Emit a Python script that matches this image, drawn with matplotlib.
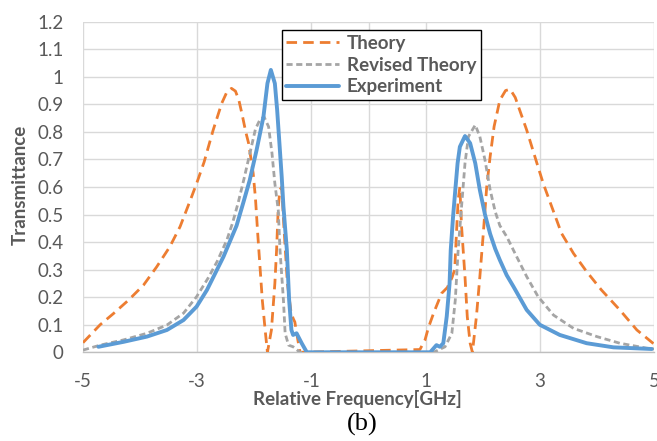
import matplotlib
matplotlib.use("Agg")
import matplotlib.pyplot as plt

# ---------------- data ----------------
theory_x = [-5.0, -4.7, -4.47, -4.2, -3.94, -3.71, -3.48, -3.30, -3.13, -3.01, -2.88, -2.72,
            -2.57, -2.48, -2.40, -2.33, -2.27, -2.21, -2.15, -2.10, -2.02, -1.98, -1.94, -1.90,
            -1.86, -1.81, -1.77, -1.70, -1.64, -1.61, -1.58, -1.55, -1.52, -1.48, -1.42, -1.36,
            -1.32, -1.29, -1.25, -1.20, 0.90, 0.99, 1.05, 1.14, 1.28, 1.38, 1.46, 1.51, 1.54,
            1.57, 1.60, 1.63, 1.69, 1.73, 1.78, 1.82, 1.89, 1.95, 2.01, 2.07, 2.13, 2.20, 2.30,
            2.40, 2.48, 2.57, 2.77, 2.95, 3.06, 3.21, 3.38, 3.59, 3.82, 4.08, 4.40, 4.70, 5.0]
theory_y = [0.035, 0.10, 0.14, 0.19, 0.244, 0.31, 0.383, 0.456, 0.547, 0.613, 0.69, 0.807,
            0.904, 0.945, 0.958, 0.948, 0.915, 0.86, 0.80, 0.759, 0.65, 0.56, 0.43, 0.31,
            0.19, 0.081, 0.0, 0.081, 0.25, 0.37, 0.528, 0.59, 0.60, 0.45, 0.25, 0.15,
            0.123, 0.11, 0.06, 0.0, 0.01, 0.045, 0.09, 0.142, 0.214, 0.235, 0.27, 0.30, 0.43,
            0.553, 0.60, 0.456, 0.274, 0.129, 0.033, 0.0, 0.13, 0.274, 0.43, 0.60, 0.71, 0.82, 0.915,
            0.95, 0.955, 0.925, 0.807, 0.686, 0.613, 0.528, 0.432, 0.359, 0.293, 0.226, 0.154, 0.081, 0.03]

revised_x = [-5.0, -4.70, -4.29, -3.88, -3.53, -3.24, -3.01, -2.81, -2.65, -2.48, -2.38, -2.28,
             -2.18, -2.08, -1.98, -1.90, -1.83, -1.75, -1.69, -1.64, -1.58, -1.55, -1.49, -1.46,
             -1.40, -1.32, -1.20, 1.14, 1.34, 1.46, 1.52, 1.57, 1.63, 1.69, 1.75, 1.87, 1.95, 2.04,
             2.13, 2.22, 2.30, 2.42, 2.60, 2.77, 2.97, 3.24, 3.59, 4.0, 4.40, 4.87, 5.0]
revised_y = [0.008, 0.026, 0.045, 0.069, 0.099, 0.142, 0.202, 0.269, 0.33, 0.408, 0.47, 0.545,
             0.63, 0.72, 0.81, 0.845, 0.855, 0.819, 0.722, 0.613, 0.515, 0.371, 0.19, 0.069,
             0.026, 0.02, 0.0, 0.0, 0.02, 0.069, 0.19, 0.371, 0.53, 0.686, 0.783, 0.825, 0.783, 0.698,
             0.59, 0.51, 0.46, 0.42, 0.345, 0.275, 0.202, 0.135, 0.087, 0.057, 0.033, 0.015, 0.012]

exp_x = [-4.73, -4.29, -3.88, -3.53, -3.24, -3.01, -2.83, -2.54, -2.31, -2.19, -2.08, -1.96,
         -1.84, -1.77, -1.71, -1.64, -1.60, -1.56, -1.52, -1.49, -1.43, -1.39, -1.35, -1.32,
         -1.26, -1.17, -1.08, 1.08, 1.19, 1.25, 1.31, 1.37, 1.42, 1.44, 1.48, 1.52, 1.56, 1.60,
         1.69, 1.78, 1.87, 1.95, 2.04, 2.13, 2.22, 2.30, 2.42, 2.54, 2.77, 3.00, 3.35, 3.82, 4.29, 4.96]
exp_y = [0.02, 0.038, 0.057, 0.081, 0.117, 0.166, 0.226, 0.347, 0.46, 0.545, 0.625, 0.734,
         0.855, 0.976, 1.025, 0.976, 0.88, 0.759, 0.637, 0.53, 0.371, 0.19, 0.081, 0.063,
         0.069, 0.033, 0.0, 0.0, 0.026, 0.02, 0.033, 0.13, 0.25, 0.371, 0.49, 0.589, 0.686, 0.746,
         0.785, 0.759, 0.686, 0.589, 0.50, 0.43, 0.375, 0.335, 0.28, 0.238, 0.154, 0.10, 0.063, 0.033, 0.018, 0.012]

x_ticks = [-5, -3, -1, 1, 3, 5]
y_ticks = [0, 0.1, 0.2, 0.3, 0.4, 0.5, 0.6, 0.7, 0.8, 0.9, 1, 1.1, 1.2]
y_ticklabels = ["0", "0.1", "0.2", "0.3", "0.4", "0.5", "0.6", "0.7", "0.8", "0.9", "1", "1.1", "1.2"]

# ---------------- figure ----------------
plt.rcParams['font.family'] = ['Lato', 'DejaVu Sans']
plt.rcParams['axes.unicode_minus'] = False
TXT = '#595959'
GRID = '#d9d9d9'

fig = plt.figure(figsize=(6.57, 4.41), dpi=100)
ax = fig.add_axes([83/657, 1-352.3/441, 571/657, 330.6/441])

ax.plot(theory_x, theory_y, color='#ED7D31', lw=2.0, dashes=(3.8, 2.2), label='Theory', zorder=3)
ax.plot(revised_x, revised_y, color='#A5A5A5', lw=2.0, dashes=(2.2, 1.3), label='Revised Theory', zorder=4)
ax.plot(exp_x, exp_y, color='#5B9BD5', lw=2.8, label='Experiment', zorder=5,
        solid_joinstyle='round', solid_capstyle='round')

ax.set_xlim(-5, 5)
ax.set_ylim(0, 1.2)
ax.set_xticks(x_ticks)
ax.set_yticks(y_ticks)
ax.set_yticklabels(y_ticklabels)
ax.grid(True, color=GRID, lw=1.0, zorder=0)
ax.set_axisbelow(True)
ax.axvline(0, color=GRID, lw=1.0, zorder=1)
for s in ['top', 'right', 'left']:
    ax.spines[s].set_visible(False)
ax.spines['bottom'].set_color('#bfbfbf')
ax.spines['bottom'].set_linewidth(1.0)
ax.tick_params(axis='both', length=0, colors=TXT, labelsize=13.5)
ax.tick_params(axis='x', pad=15)
ax.tick_params(axis='y', pad=14)

fig.text(357/657, 1-399/441, 'Relative Frequency[GHz]', ha='center', va='center',
         fontsize=13.5, fontweight='bold', color=TXT)
fig.text(20/657, 1-185/441, 'Transmittance', ha='center', va='center', rotation=90,
         fontsize=13.5, fontweight='bold', color=TXT)
fig.text(362/657, 1-424/441, '(b)', ha='center', va='center', fontsize=19,
         family=['Liberation Serif', 'DejaVu Serif'], color='black')

leg = ax.legend(loc='upper left', bbox_to_anchor=(0.348, 0.975), frameon=True, fancybox=False,
                edgecolor='black', framealpha=1, handlelength=2.8, handletextpad=0.43,
                labelspacing=0.26, borderpad=0.25, borderaxespad=0,
                prop={'weight': 'bold', 'size': 13.5})
leg.get_frame().set_linewidth(1.0)
for t in leg.get_texts():
    t.set_color(TXT)

fig.savefig('out.png', dpi=100)
